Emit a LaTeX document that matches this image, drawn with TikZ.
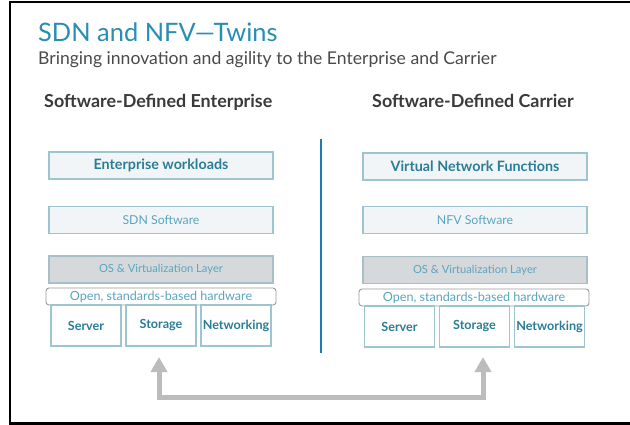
\documentclass[tikz,border=0pt]{standalone}
\usepackage{fontspec}
\setmainfont{Lato}
\usetikzlibrary{arrows.meta}
\definecolor{titleblue}{HTML}{2A8DB5}
\definecolor{headgray}{HTML}{3A3A3A}
\definecolor{subgray}{HTML}{4A4A4A}
\definecolor{boxedge}{HTML}{9CC5CF}
\definecolor{boxfill}{HTML}{F2F5F7}
\definecolor{osfill}{HTML}{D6D9DC}
\definecolor{osedge}{HTML}{A9BEC6}
\definecolor{darkteal}{HTML}{2A7D96}
\definecolor{lightteal}{HTML}{5AA5BD}
\definecolor{hwedge}{HTML}{9A9A9A}
\definecolor{divider}{HTML}{1B7DB0}
\definecolor{arrowgray}{HTML}{BCBCBC}
\definecolor{baseline}{HTML}{CACACA}
\begin{document}
\begin{tikzpicture}[x=1pt,y=-1pt,
  layer/.style={draw=boxedge, fill=boxfill, line width=1.2pt,
    minimum width=224pt, minimum height=27pt, inner sep=0pt},
  toplayer/.style={layer, text=darkteal, font=\fontsize{14.3}{16}\selectfont\bfseries},
  midlayer/.style={layer, text=lightteal, font=\fontsize{12.3}{14}\selectfont},
  oslayer/.style={layer, draw=osedge, fill=osfill, text=lightteal, font=\fontsize{11.2}{13}\selectfont},
  hwbar/.style={draw=hwedge, fill=white, rounded corners=3pt, line width=0.9pt,
    minimum width=230pt, minimum height=17pt, inner sep=0pt, text=lightteal,
    font=\fontsize{12.6}{14}\selectfont},
  unit/.style={draw=boxedge, fill=white, line width=1.1pt, minimum width=70pt,
    minimum height=41pt, inner sep=0pt, text=darkteal,
    font=\fontsize{12.6}{14}\selectfont\bfseries},
  heading/.style={anchor=base west, inner sep=0pt, text=headgray,
    font=\fontsize{17.9}{20}\selectfont\bfseries},
  twinarrow/.style={draw=arrowgray, line width=5pt,
    {Triangle[width=16pt,length=15pt]}-{Triangle[width=16pt,length=15pt]}}
]
\useasboundingbox (0,0) rectangle (630,425);
\fill[white] (0,0) rectangle (630,425);

% frame edges and footer rule
\draw[black, line width=2.6pt] (9,2) -- (630,2);
\draw[black, line width=2.4pt] (10,1) -- (10,425);
\draw[baseline, line width=3pt] (11,423) -- (630,423);

% titles
\node[anchor=base west, inner sep=0pt, text=titleblue,
  font=\fontsize{25.4}{30}\selectfont] (title) at (38,42) {SDN and NFV—Twins};
\node[anchor=base west, inner sep=0pt, text=subgray,
  font=\fontsize{17.6}{20}\selectfont] (subtitle) at (38,65)
  {Bringing innovation and agility to the Enterprise and Carrier};
\node[heading] (lefthead) at (44,108) {Software-Defined Enterprise};
\node[heading] (righthead) at (372,108) {Software-Defined Carrier};

% enterprise stack
\node[toplayer] (ew) at (161,165.5) {Enterprise workloads};
\node[midlayer] (sdn) at (161,220) {SDN Software};
\node[oslayer] (os) at (161,269.5) {OS \& Virtualization Layer};
\node[hwbar] (hw) at (161,296.5) {Open, standards-based hardware};
\node[unit] (server) at (86,325.5) {Server};
\node[unit] (storage) at (161,325.5) {Storage};
\node[unit] (net) at (236,325.5) {Networking};

% carrier stack
\node[toplayer] (vnf) at (475,166.5) {Virtual Network Functions};
\node[midlayer] (nfv) at (475,220) {NFV Software};
\node[oslayer] (os2) at (475,270) {OS \& Virtualization Layer};
\node[hwbar] (hw2) at (474,297.5) {Open, standards-based hardware};
\node[unit] (server2) at (399.5,326.5) {Server};
\node[unit] (storage2) at (474.5,326.5) {Storage};
\node[unit] (net2) at (549.5,326.5) {Networking};

% divider between the two stacks
\coordinate (divtop) at (321,139);
\coordinate (divbot) at (321,353);
\draw[divider, line width=2pt] (divtop) -- (divbot);

% shared-hardware arrow
\coordinate (ltip) at (159,357);
\coordinate (lcorner) at (159,397);
\coordinate (rcorner) at (483,397);
\coordinate (rtip) at (483,357);
\draw[twinarrow] (ltip) -- (lcorner) -- (rcorner) -- (rtip);
\end{tikzpicture}
\end{document}
